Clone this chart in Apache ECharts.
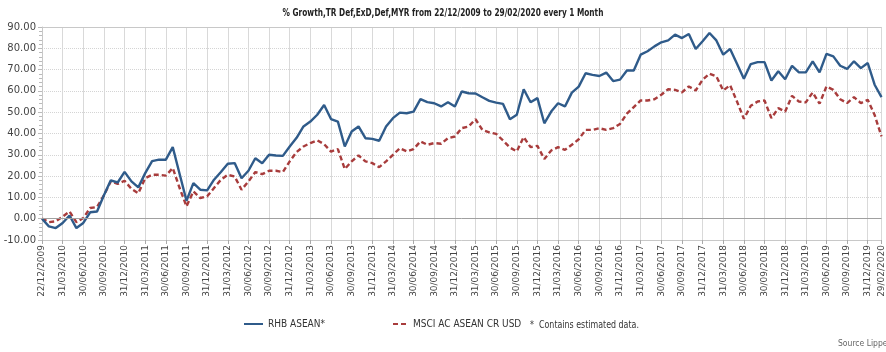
<!DOCTYPE html>
<html><head><meta charset="utf-8">
<script src="https://cdn.jsdelivr.net/npm/echarts@6/dist/echarts.min.js"></script>
<style>html,body{margin:0;padding:0;background:#fff}#c{width:886px;height:352px}</style>
</head><body><div id="c"></div>
<script>
const titleText = '% Growth,TR Def,ExD,Def,MYR from 22/12/2009 to 29/02/2020 every 1 Month';
const seriesNames = ['RHB ASEAN*', 'MSCI AC ASEAN CR USD'];
const noteText = '*  Contains estimated data.';
const sourceText = 'Source Lipper';
const yMin = -10, yMax = 90, yInterval = 10;

// month-end dates: 22/12/2009 then every month end to 29/02/2020
const categories = ['22/12/2009'];
for (let k = 1; k <= 122; k++) {
  const m = (11 + k) % 12;
  const y = 2009 + Math.floor((11 + k) / 12);
  const d = new Date(y, m + 1, 0).getDate();
  categories.push(String(d).padStart(2, '0') + '/' + String(m + 1).padStart(2, '0') + '/' + y);
}

const rhbAsean = [
  0, -3.6, -4.4, -2, 1.5, -4.4, -2, 3, 3.4, 11,
  18, 17, 22, 17.5, 14.7, 21.4, 27, 27.7, 27.7, 33.6,
  21, 8.4, 16.7, 13.6, 13.3, 18.3, 21.9, 25.8, 26.1, 19,
  22.5, 28.4, 26, 30, 29.7, 29.5, 33.9, 38, 43.3, 45.6,
  48.8, 53.4, 46.8, 45.6, 33.9, 40.9, 43.3, 37.8, 37.5, 36.6,
  43.3, 47.2, 49.8, 49.5, 50.3, 56.1, 54.7, 54.2, 52.7, 54.7,
  52.7, 59.7, 58.9, 58.8, 57, 55.3, 54.5, 53.9, 46.7, 48.8,
  60.8, 54.7, 56.6, 44.8, 50.3, 54.2, 52.7, 59.2, 62, 68.3,
  67.5, 67, 68.6, 64.6, 65.3, 69.6, 69.6, 77, 78.6, 80.9,
  82.8, 83.7, 86.4, 84.8, 86.7, 79.7, 83.3, 87.2, 83.7, 77,
  79.7, 72.8, 65.7, 72.6, 73.5, 73.5, 64.9, 69.2, 65.5, 71.8,
  68.7, 68.7, 73.9, 68.7, 77.4, 76.2, 71.8, 70.3, 73.9, 70.7,
  73.1, 62.9, 57.1
];
const msciAsean = [
  0, -1.6, -1.2, 1, 3.4, -1.6, 0.3, 5, 5.5, 11,
  17.5, 16.3, 17.8, 14, 11.9, 19, 20.6, 20.6, 20.2, 23.8,
  14.4, 5.8, 12.8, 9.7, 10.5, 14.4, 18.3, 20.6, 19.8, 13.6,
  17.5, 21.9, 20.9, 22.5, 22.5, 21.9, 26.9, 31.3, 33.9, 35.5,
  36.8, 35, 31.5, 32.7, 23.3, 26.9, 29.7, 26.9, 26.1, 24.2,
  26.9, 30, 33.1, 31.6, 32.7, 36.3, 34.7, 35.5, 35.2, 37.8,
  38.6, 42.5, 43.3, 46.7, 41.7, 40.5, 39.8, 36.7, 33.4, 31.6,
  38.3, 33.6, 34.2, 28, 32, 33.6, 32.3, 34.7, 37.3, 41.7,
  41.7, 42.5, 41.7, 42.5, 44.5, 49.3, 52.4, 55.5, 55.5, 56.1,
  58.2, 60.8, 60.5, 59.3, 62.1, 60.2, 65.2, 68.1, 66.8, 60.2,
  62.7, 55, 46.9, 53, 55, 55.5, 47.2, 51.9, 50.3, 57.7,
  55, 54.6, 59.3, 54, 62.1, 60.5, 56.1, 54.3, 57.1, 54.3,
  55.8, 48.7, 38.6
];

const lastIdx = categories.length - 1;
const showIdx = (i) => i % 3 === 0 || i === lastIdx;
const narrow = '"DejaVu Sans Condensed", sans-serif';
const blue = '#2f5b8a', red = '#a83c3c';

const chart = echarts.init(document.getElementById('c'), null, {renderer: 'canvas'});
chart.setOption({
  backgroundColor: '#ffffff',
  animation: false,
  grid: {left: 42, top: 27, width: 844, height: 213, containLabel: false},
  legend: [
    {data: [seriesNames[0]], left: 243, top: 319, padding: 0, itemWidth: 19, itemHeight: 12,
      itemStyle: {opacity: 0}, textStyle: {fontFamily: narrow, fontSize: 10, color: '#333'}},
    {data: [seriesNames[1]], left: 392, top: 319, padding: 0, itemWidth: 15, itemHeight: 12,
      itemStyle: {opacity: 0}, textStyle: {fontFamily: narrow, fontSize: 10, color: '#333'}}
  ],
  graphic: [
    {type: 'text', x: 443, y: 13, scaleX: 0.82,
      style: {text: titleText, fontFamily: narrow, fontSize: 10, fontWeight: 'bold', fill: '#222',
        textAlign: 'center', textVerticalAlign: 'middle'}},
    {type: 'text', x: 530, y: 325, scaleX: 0.8,
      style: {text: noteText, fontFamily: narrow, fontSize: 11, fill: '#333', textVerticalAlign: 'middle'}},
    {type: 'text', x: 838, y: 344, style: {text: sourceText, fontFamily: narrow, fontSize: 8.5, fill: '#666', textVerticalAlign: 'middle'}}
  ],
  xAxis: {
    type: 'category', data: categories, boundaryGap: false,
    axisLine: {show: true, onZero: false, lineStyle: {color: '#c8c8c8'}},
    axisTick: {show: true, interval: showIdx, length: 4, lineStyle: {color: '#aaa'}},
    axisLabel: {interval: showIdx, rotate: 90, fontFamily: 'DejaVu Sans', fontSize: 9, color: '#444', margin: 5},
    splitLine: {show: true, interval: showIdx, lineStyle: {color: '#d9d9d9', width: 1}}
  },
  yAxis: {
    type: 'value', min: yMin, max: yMax, interval: yInterval,
    axisLine: {show: true, lineStyle: {color: '#c8c8c8'}},
    axisTick: {show: true, length: 4, lineStyle: {color: '#bbb'}},
    minorTick: {show: true, splitNumber: 5, length: 3, lineStyle: {color: '#bbb'}},
    axisLabel: {formatter: (v) => v.toFixed(2), fontFamily: 'DejaVu Sans', fontSize: 10, color: '#444', margin: 6},
    splitLine: {show: true, lineStyle: {color: '#d4d4d4', type: 'dotted', width: 1}}
  },
  series: [
    {
      name: 'refLines', type: 'line', data: [], z: 1, silent: true,
      markLine: {
        silent: true, symbol: ['none', 'none'], label: {show: false},
        data: [
          {yAxis: 0, lineStyle: {color: '#a0a0a0', type: 'solid', width: 1}},
          {yAxis: 90, lineStyle: {color: '#c8c8c8', type: 'solid', width: 1}}
        ]
      }
    },
    {
      name: seriesNames[0], type: 'line', data: rhbAsean, z: 4,
      symbol: 'none', showSymbol: false,
      lineStyle: {color: blue, width: 2.4}, itemStyle: {color: blue}
    },
    {
      name: seriesNames[1], type: 'line', data: msciAsean, z: 3,
      symbol: 'none', showSymbol: false,
      lineStyle: {color: red, width: 2.4, type: [5, 3]}, itemStyle: {color: red}
    }
  ]
});
</script>
</body></html>
